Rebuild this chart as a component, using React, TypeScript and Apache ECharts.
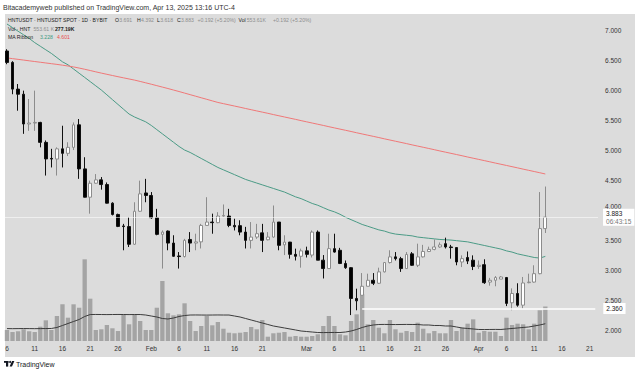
import React, { useEffect, useRef } from "react";
import * as echarts from "echarts";

// ---------- categories (daily candles + empty future slots) ----------
const N_SLOTS = 107;
const DATES: string[] = (() => {
  const out: string[] = [];
  const t0 = Date.UTC(2025, 0, 6);
  for (let i = 0; i < N_SLOTS; i++) out.push(new Date(t0 + i * 86400000).toISOString().slice(0, 10));
  return out;
})();

const TICK_LABELS: Record<string, string> = {
  "2025-01-06": "6", "2025-01-11": "11", "2025-01-16": "16", "2025-01-21": "21", "2025-01-26": "26",
  "2025-02-01": "Feb", "2025-02-06": "6", "2025-02-11": "11", "2025-02-16": "16", "2025-02-21": "21",
  "2025-03-01": "Mar", "2025-03-06": "6", "2025-03-11": "11", "2025-03-16": "16", "2025-03-21": "21", "2025-03-26": "26",
  "2025-04-01": "Apr", "2025-04-06": "6", "2025-04-11": "11", "2025-04-16": "16", "2025-04-21": "21",
};

// ---------- OHLC ----------
const OPEN = [
  6.65, 6.46, 6.015, 5.93, 5.434, 5.45, 5.46, 5.128, 4.86, 4.85,
  5.02, 4.945, 5.045, 5.42, 4.686, 4.214, 4.447, 4.503, 4.425, 4.115,
  3.927, 3.735, 3.725, 3.43, 3.98, 4.285, 4.243, 3.872, 3.595, 3.65,
  3.45, 3.235, 3.225, 3.51, 3.45, 3.47, 3.744, 3.8, 3.79, 3.9,
  3.9, 3.744, 3.74, 3.633, 3.495, 3.55, 3.62, 3.505, 3.55, 3.8,
  3.42, 3.466, 3.262, 3.23, 3.32, 3.25, 3.633, 3.165, 3.025, 3.357,
  3.33, 3.11, 3.04, 2.527, 2.58, 2.73, 2.83, 2.78, 2.97, 3.125,
  3.22, 3.19, 3.025, 3.27, 3.08, 3.22, 3.31, 3.345, 3.385, 3.44,
  3.385, 3.375, 3.135, 3.21, 3.165, 3.06, 3.09, 2.8, 2.83, 2.85,
  2.875, 2.455, 2.61, 2.415, 2.79, 2.8, 2.94, 3.691,
];
const HIGH = [
  6.68, 6.48, 6.1, 5.99, 5.85, 5.99, 5.47, 5.16, 5.02, 5.045,
  5.405, 5.13, 5.46, 5.517, 4.88, 4.49, 4.6, 4.55, 4.46, 4.13,
  3.94, 3.77, 3.88, 4.13, 4.49, 4.52, 4.3, 4.02, 3.66, 3.66,
  3.58, 3.3, 3.52, 3.633, 3.606, 3.77, 4.214, 3.94, 3.965, 4.093,
  4.02, 3.855, 3.83, 3.72, 3.8, 3.77, 3.77, 3.633, 4.076, 3.8,
  3.58, 3.47, 3.357, 3.357, 3.39, 3.66, 3.66, 3.25, 3.606, 3.606,
  3.37, 3.16, 3.05, 2.69, 2.95, 2.94, 2.95, 3.04, 3.13, 3.33,
  3.3, 3.22, 3.3, 3.3, 3.44, 3.42, 3.39, 3.51, 3.46, 3.54,
  3.42, 3.38, 3.245, 3.31, 3.245, 3.16, 3.18, 2.87, 2.9, 2.9,
  2.885, 2.695, 2.78, 2.885, 2.94, 3.08, 4.3, 4.392,
];
const LOW = [
  6.43, 5.93, 5.655, 5.27, 5.32, 5.32, 5.045, 4.575, 4.71, 4.575,
  4.71, 4.9, 5.0, 4.52, 4.21, 3.94, 4.44, 4.34, 4.11, 3.91,
  3.716, 3.33, 3.384, 3.42, 3.97, 4.13, 3.855, 3.58, 3.025, 3.33,
  3.22, 3.025, 3.21, 3.3, 3.33, 3.36, 3.74, 3.606, 3.78, 3.89,
  3.715, 3.66, 3.58, 3.36, 3.36, 3.52, 3.3, 3.495, 3.54, 3.33,
  3.25, 3.19, 3.16, 3.04, 3.21, 3.21, 3.165, 2.86, 3.02, 3.29,
  3.1, 3.02, 2.25, 2.33, 2.58, 2.73, 2.75, 2.77, 2.96, 3.11,
  3.16, 2.97, 3.02, 3.07, 3.05, 3.21, 3.3, 3.33, 3.37, 3.36,
  3.19, 3.08, 3.05, 3.1, 3.0, 3.02, 2.77, 2.74, 2.73, 2.85,
  2.4, 2.33, 2.39, 2.36, 2.78, 2.79, 2.93, 3.618,
];
const CLOSE = [
  6.46, 6.015, 5.93, 5.434, 5.45, 5.46, 5.128, 4.852, 4.85, 5.02,
  4.945, 5.045, 5.42, 4.686, 4.214, 4.447, 4.503, 4.425, 4.115, 3.927,
  3.728, 3.725, 3.43, 3.98, 4.27, 4.243, 3.872, 3.595, 3.633, 3.45,
  3.23, 3.225, 3.495, 3.45, 3.47, 3.744, 3.8, 3.79, 3.9, 3.91,
  3.744, 3.72, 3.633, 3.495, 3.55, 3.606, 3.495, 3.55, 3.8, 3.412,
  3.466, 3.262, 3.23, 3.32, 3.262, 3.633, 3.165, 3.025, 3.357, 3.3,
  3.11, 3.04, 2.527, 2.487, 2.73, 2.83, 2.78, 2.97, 3.125, 3.22,
  3.19, 3.025, 3.26, 3.08, 3.22, 3.31, 3.345, 3.385, 3.42, 3.385,
  3.375, 3.135, 3.19, 3.15, 3.06, 3.08, 2.79, 2.83, 2.875, 2.885,
  2.445, 2.61, 2.415, 2.785, 2.8, 2.94, 3.691, 3.883,
];

// ---------- volume (thousands) and its moving average ----------
const VOLUME = [
  177, 144, 156, 188, 156, 144, 230, 332, 177, 401,
  589, 374, 589, 534, 1311, 679, 177, 188, 257, 204,
  160, 428, 268, 428, 321, 177, 177, 534, 963, 445,
  412, 428, 605, 321, 160, 241, 401, 252, 305, 197,
  133, 124, 133, 144, 225, 188, 337, 69, 124, 133,
  144, 69, 80, 69, 69, 80, 108, 241, 401, 241,
  108, 91, 321, 428, 750, 268, 337, 213, 124, 337,
  188, 133, 160, 144, 294, 197, 124, 160, 124, 124,
  337, 160, 213, 278, 348, 133, 160, 149, 149, 80,
  374, 257, 278, 268, 188, 278, 493, 553.61,
];
const VOL_MA = [
  199, 198, 199, 200, 199, 198, 199, 200, 201, 217,
  249, 281, 313, 345, 393, 425, 426, 425, 424, 425,
  426, 425, 424, 425, 425, 417, 401, 385, 361, 353,
  369, 393, 409, 417, 418, 417, 416, 417, 418, 417,
  417, 401, 385, 361, 337, 313, 289, 265, 241, 225,
  209, 193, 177, 160, 152, 144, 136, 135, 136, 137,
  136, 144, 160, 185, 217, 241, 257, 265, 266, 265,
  264, 265, 266, 265, 265, 257, 257, 249, 249, 241,
  241, 225, 209, 201, 193, 185, 184, 185, 186, 185,
  193, 201, 209, 217, 225, 241, 257, 277.19,
];

// ---------- MA ribbon ----------
const MA_FAST = [
  7.1, 7.04, 6.98, 6.92, 6.86, 6.79, 6.73, 6.67, 6.61, 6.54,
  6.47, 6.42, 6.35, 6.28, 6.21, 6.14, 6.07, 6.0, 5.92, 5.84,
  5.76, 5.68, 5.6, 5.55, 5.51, 5.47, 5.41, 5.34, 5.27, 5.2,
  5.13, 5.06, 5.0, 4.96, 4.91, 4.86, 4.81, 4.76, 4.71, 4.67,
  4.63, 4.59, 4.55, 4.51, 4.48, 4.45, 4.42, 4.39, 4.36, 4.33,
  4.3, 4.26, 4.22, 4.19, 4.15, 4.11, 4.08, 4.04, 4.0, 3.97,
  3.93, 3.88, 3.84, 3.8, 3.76, 3.73, 3.7, 3.67, 3.65, 3.62,
  3.6, 3.59, 3.58, 3.57, 3.55, 3.54, 3.53, 3.52, 3.51, 3.505,
  3.5, 3.49, 3.48, 3.47, 3.45, 3.43, 3.41, 3.39, 3.37, 3.35,
  3.32, 3.3, 3.27, 3.25, 3.23, 3.21, 3.2, 3.228,
];
const MA_SLOW = [
  6.535, 6.523, 6.511, 6.499, 6.487, 6.475, 6.463, 6.451, 6.439, 6.427,
  6.414, 6.4, 6.385, 6.366, 6.346, 6.325, 6.303, 6.282, 6.262, 6.242,
  6.222, 6.203, 6.184, 6.165, 6.143, 6.12, 6.097, 6.073, 6.049, 6.025,
  6.0, 5.975, 5.949, 5.923, 5.897, 5.871, 5.845, 5.819, 5.793, 5.773,
  5.753, 5.733, 5.713, 5.692, 5.672, 5.652, 5.632, 5.612, 5.591, 5.571,
  5.551, 5.531, 5.511, 5.49, 5.47, 5.45, 5.43, 5.41, 5.389, 5.369,
  5.349, 5.329, 5.309, 5.288, 5.268, 5.248, 5.228, 5.208, 5.187, 5.167,
  5.147, 5.127, 5.107, 5.086, 5.066, 5.046, 5.026, 5.006, 4.985, 4.965,
  4.945, 4.925, 4.905, 4.884, 4.864, 4.844, 4.824, 4.804, 4.783, 4.763,
  4.743, 4.723, 4.703, 4.682, 4.662, 4.642, 4.622, 4.601,
];

const LAST_PRICE = 3.883;
const SUPPORT = 2.36;
const SUPPORT_START = 64;
const FONT = "'Liberation Sans', Arial, sans-serif";

// legend rows: [text, x, colour, weight]
const LEGEND_ROW1: [string, number, string, string][] = [
  ["HNTUSDT · HNTUSDT SPOT · 1D · BYBIT", 8, "#222", "normal"],
  ["O", 115, "#222", "normal"], ["3.691", 119.3, "#8e8e8e", "normal"],
  ["H", 137, "#222", "normal"], ["4.392", 141, "#8e8e8e", "normal"],
  ["L", 157, "#222", "normal"], ["3.618", 160.2, "#8e8e8e", "normal"],
  ["C", 177, "#222", "normal"], ["3.883", 181, "#8e8e8e", "normal"],
  ["+0.192 (+5.20%)", 197.5, "#8e8e8e", "normal"],
  ["Vol", 238.5, "#222", "normal"], ["553.61K", 246.7, "#8e8e8e", "normal"],
  ["+0.192 (+5.20%)", 273, "#8e8e8e", "normal"],
];
const LEGEND_ROW2: [string, number, string, string][] = [
  ["Vol · HNT", 8, "#222", "normal"], ["553.61 K", 33.5, "#8e8e8e", "normal"], ["277.19K", 55, "#222", "bold"],
];
const LEGEND_ROW3: [string, number, string, string][] = [
  ["MA Ribbon", 8, "#222", "normal"], ["3.228", 40, "#3f9a82", "normal"], ["4.601", 57, "#e8504f", "normal"],
];

export default function App() {
  const ref = useRef<HTMLDivElement>(null);
  useEffect(() => {
    if (!ref.current) return;
    const chart = echarts.init(ref.current, null, { renderer: "svg" });
    const candles = CLOSE.map((c, i) => [OPEN[i], c, LOW[i], HIGH[i]]);
    const gridL = 4.2;
    const gridW = 593.85;

    const legendText = (row: [string, number, string, string][], y: number) =>
      row.map(([t, x, c, w]) => ({
        type: "text", z: 100, x, y, scaleX: 0.86,
        style: { text: t, fontSize: 6, fontFamily: FONT, fontWeight: w, fill: c, verticalAlign: "middle" },
      }));

    chart.setOption({
      animation: false,
      backgroundColor: "#ffffff",
      textStyle: { fontFamily: FONT },
      grid: [
        { left: gridL, width: gridW, top: -1.1, height: 361.2 },
        { left: gridL, width: gridW, top: 241, height: 100 },
      ],
      xAxis: [
        { type: "category", gridIndex: 0, data: DATES, boundaryGap: true, show: false },
        {
          type: "category", gridIndex: 1, data: DATES, boundaryGap: true,
          axisLine: { show: false }, axisTick: { show: false }, splitLine: { show: false },
          axisLabel: {
            interval: 0, margin: 4, fontSize: 6.5, color: "#333", fontFamily: FONT,
            formatter: (v: string) => TICK_LABELS[v] || "",
          },
        },
      ],
      yAxis: [
        {
          type: "value", gridIndex: 0, position: "right", min: 1.5, max: 7.5, interval: 0.5,
          splitLine: { show: false }, axisLine: { show: false }, axisTick: { show: false },
          axisLabel: {
            showMinLabel: false, showMaxLabel: false, margin: 7, fontSize: 6.5, color: "#333",
            fontFamily: FONT,
            formatter: (v: number) => (v === 4 ? "{up|4.000}" : v.toFixed(3)),
            rich: { up: { fontSize: 6.5, color: "#333", fontFamily: FONT, padding: [0, 0, 8, 0] } },
          },
        },
        { type: "value", gridIndex: 1, min: 0, max: 1605, show: false },
      ],
      graphic: [
        { type: "rect", z: -10, shape: { x: 5, y: 14, width: 630, height: 343 }, style: { fill: "#dcdcdc" } },
        {
          type: "text", z: 100, x: 3, y: 7,
          style: { text: "Bitacademyweb published on TradingView.com, Apr 13, 2025 13:16 UTC-4", fontSize: 7, fontFamily: FONT, fill: "#333", verticalAlign: "middle" },
        },
        ...legendText(LEGEND_ROW1, 20),
        ...legendText(LEGEND_ROW2, 28.5),
        ...legendText(LEGEND_ROW3, 37),
        // TradingView logo + wordmark
        { type: "rect", z: 100, shape: { x: 4, y: 361, width: 4.5, height: 1.8 }, style: { fill: "#131722" } },
        { type: "rect", z: 100, shape: { x: 6, y: 361, width: 2.2, height: 5.6 }, style: { fill: "#131722" } },
        { type: "circle", z: 100, shape: { cx: 10, cy: 362, r: 1 }, style: { fill: "#131722" } },
        { type: "polygon", z: 100, shape: { points: [[9.6, 366.6], [12, 361], [14.4, 361], [12, 366.6]] }, style: { fill: "#131722" } },
        {
          type: "text", z: 100, x: 16, y: 364,
          style: { text: "TradingView", fontSize: 7, fontFamily: FONT, fill: "#131722", verticalAlign: "middle" },
        },
      ],
      series: [
        {
          type: "bar", name: "Vol", xAxisIndex: 1, yAxisIndex: 1, z: 1,
          data: VOLUME, barWidth: "78%", itemStyle: { color: "#a4a4a4" },
        },
        {
          type: "line", name: "Vol MA", xAxisIndex: 1, yAxisIndex: 1, z: 3,
          data: VOL_MA, symbol: "none", lineStyle: { color: "#3c3c3c", width: 1 },
        },
        {
          type: "line", name: "MA fast", xAxisIndex: 0, yAxisIndex: 0, z: 3,
          data: MA_FAST, symbol: "none", lineStyle: { color: "#4b9b86", width: 1 },
        },
        {
          type: "line", name: "MA slow", xAxisIndex: 0, yAxisIndex: 0, z: 3,
          data: MA_SLOW, symbol: "none", lineStyle: { color: "#f07878", width: 1 },
        },
        {
          type: "candlestick", name: "HNTUSDT", xAxisIndex: 0, yAxisIndex: 0, z: 4,
          data: candles, barWidth: 3.2,
          itemStyle: {
            color: "#ffffff", color0: "#000000", borderColor: "#8c8c8c", borderColor0: "#111111",
            borderColorDoji: "#8c8c8c", borderWidth: 1,
          },
          markLine: {
            silent: true, symbol: ["none", "none"], animation: false,
            data: [
              {
                yAxis: LAST_PRICE,
                lineStyle: { color: "rgba(255,255,255,0.55)", width: 1, type: "solid" },
                label: {
                  show: true, position: "end", distance: 5,
                  formatter: "{a|3.883}\n{b|06:43:15}",
                  backgroundColor: "#ffffff", padding: [1, 3, 1, 3],
                  rich: {
                    a: { fontSize: 6.5, color: "#222", fontFamily: FONT, lineHeight: 7.5 },
                    b: { fontSize: 6.5, color: "#777", fontFamily: FONT, lineHeight: 7.5 },
                  },
                },
              },
              [
                { coord: [DATES[SUPPORT_START], SUPPORT] },
                { coord: [DATES[N_SLOTS - 1], SUPPORT] },
              ],
            ],
            lineStyle: { color: "#ffffff", width: 1.5, type: "solid" },
            label: {
              show: true, position: "end", distance: 8, formatter: "2.360",
              backgroundColor: "#ffffff", color: "#222", fontSize: 6.5, fontFamily: FONT, padding: [2, 3, 2, 3],
            },
          },
        },
      ],
    });
    return () => chart.dispose();
  }, []);
  return <div ref={ref} style={{ position: "fixed", left: 0, top: 0, width: 640, height: 373 }} />;
}
